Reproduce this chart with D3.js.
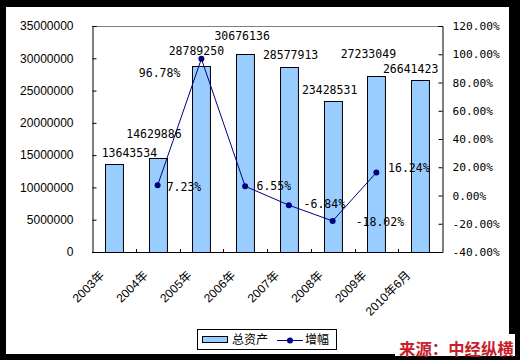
<!DOCTYPE html>
<html><head><meta charset="utf-8">
<script src="https://cdn.jsdelivr.net/npm/d3@7"></script>
<style>html,body{margin:0;padding:0;background:#000;}svg{display:block;}</style>
</head><body>
<script>
const categories = ["2003年","2004年","2005年","2006年","2007年","2008年","2009年","2010年6月"];
const totalAssets = [13643534, 14629886, 28789250, 30676136, 28577913, 23428531, 27233049, 26641423];
const growth = [null, 7.23, 96.78, 6.55, -6.84, -18.02, 16.24, null];
const leftTicks = [0, 5000000, 10000000, 15000000, 20000000, 25000000, 30000000, 35000000];
const rightTicks = [-40, -20, 0, 20, 40, 60, 80, 100, 120];
const seriesNames = ["总资产", "增幅"];
const sourceText = "来源：中经纵横";

// manual label nudges (layout only)
const valueLabelShift = [[15.5,-10.7],[-3.7,-23.5],[-5,-15],[-3,-18],[1.7,-12.5],[-3,-10.7],[-8,-21.7],[-9.5,-11]];
const pctLabelShift = [null,[9,1.4,"start"],[-21,14,"end"],[11.4,0,"start"],[14.7,-1,"start"],[23,0.7,"start"],[11.7,-4.3,"start"],null];

const W = 520, H = 360;
const plot = {l: 92, r: 442, t: 26, b: 252};
const svg = d3.select("body").append("svg").attr("width", W).attr("height", H);
svg.append("rect").attr("width", W).attr("height", H).attr("fill", "#000");
svg.append("rect").attr("x", 6).attr("y", 7).attr("width", 503).attr("height", 347).attr("fill", "#fff");

const monoFont = "'DejaVu Sans Mono', monospace";
const x = d3.scaleBand().domain(categories).range([plot.l, plot.r]).paddingInner(0.59).paddingOuter(0.295);
const yL = d3.scaleLinear().domain([0, 35000000]).range([plot.b, plot.t]);
const yR = d3.scaleLinear().domain([-40, 120]).range([plot.b, plot.t]);

// top border gray
svg.append("line").attr("x1", plot.l).attr("x2", plot.r).attr("y1", plot.t + 0.5).attr("y2", plot.t + 0.5).attr("stroke", "#808080");

// bars
svg.append("g").selectAll("rect").data(totalAssets).join("rect")
  .attr("x", (d, i) => Math.round(x(categories[i])) + 0.5)
  .attr("y", d => Math.round(yL(d)) + 0.5)
  .attr("width", x.bandwidth())
  .attr("height", d => plot.b - Math.round(yL(d)))
  .attr("fill", "#99ccff").attr("stroke", "#000").attr("stroke-width", 1);

// left axis
const gL = svg.append("g").attr("transform", `translate(${plot.l + 0.5},0)`)
  .call(d3.axisLeft(yL).tickValues(leftTicks).tickFormat(d3.format("d")).tickSize(-4).tickPadding(19));
gL.selectAll("text").attr("font-family", "'Liberation Sans', Arial, sans-serif").attr("font-size", 12).attr("fill", "#000");
gL.selectAll("line,path").attr("stroke", "#000");

// right axis
const gR = svg.append("g").attr("transform", `translate(${plot.r + 0.5},0)`)
  .call(d3.axisRight(yR).tickValues(rightTicks).tickFormat(d => d.toFixed(2) + "%").tickSize(-4).tickPadding(10));
gR.selectAll("text").attr("font-family", monoFont).attr("font-size", 11.2).attr("fill", "#000");
gR.selectAll("line,path").attr("stroke", "#000");

// bottom axis
svg.append("line").attr("x1", plot.l).attr("x2", plot.r + 1).attr("y1", plot.b + 0.5).attr("y2", plot.b + 0.5).attr("stroke", "#000");
const step = x.step(), gap = step - x.bandwidth();
svg.append("g").selectAll("line").data(categories.slice(1)).join("line")
  .attr("x1", d => Math.round(x(d) - gap / 2) + 0.5).attr("x2", d => Math.round(x(d) - gap / 2) + 0.5)
  .attr("y1", plot.b - 3).attr("y2", plot.b).attr("stroke", "#000");

// x labels
svg.append("g").selectAll("text").data(categories).join("text")
  .attr("transform", d => `translate(${x(d) + x.bandwidth() / 2 - 9},276) rotate(-45)`)
  .attr("text-anchor", "end")
  .attr("font-family", "'Liberation Sans', 'Noto Sans CJK SC', sans-serif").attr("font-size", 12).attr("fill", "#000")
  .text(d => d);

// line
const cx = i => x(categories[i]) + x.bandwidth() / 2;
const line = d3.line().defined(d => d != null).x((d, i) => cx(i)).y(d => yR(d));
svg.append("path").datum(growth).attr("d", line).attr("fill", "none").attr("stroke", "#000080").attr("stroke-width", 1);
svg.append("g").selectAll("circle").data(growth.map((d, i) => [d, i]).filter(p => p[0] != null)).join("circle")
  .attr("cx", p => cx(p[1])).attr("cy", p => yR(p[0])).attr("r", 3).attr("fill", "#000080");

// value labels
svg.append("g").selectAll("text").data(totalAssets).join("text")
  .attr("x", (d, i) => cx(i) + valueLabelShift[i][0])
  .attr("y", (d, i) => yL(d) + valueLabelShift[i][1])
  .attr("dy", "0.35em").attr("text-anchor", "middle")
  .attr("font-family", monoFont).attr("font-size", 11.5).attr("fill", "#000")
  .text(d => String(d));

// pct labels
svg.append("g").selectAll("text").data(growth.map((d, i) => [d, i]).filter(p => p[0] != null)).join("text")
  .attr("x", p => cx(p[1]) + pctLabelShift[p[1]][0])
  .attr("y", p => yR(p[0]) + pctLabelShift[p[1]][1])
  .attr("dy", "0.35em").attr("text-anchor", p => pctLabelShift[p[1]][2])
  .attr("font-family", monoFont).attr("font-size", 11.5).attr("fill", "#000")
  .text(p => p[0].toFixed(2) + "%");

// legend
const lg = svg.append("g");
lg.append("rect").attr("x", 197.5).attr("y", 329.5).attr("width", 139).attr("height", 20).attr("fill", "#fff").attr("stroke", "#000");
lg.append("rect").attr("x", 202.5).attr("y", 336.5).attr("width", 25).attr("height", 6).attr("fill", "#99ccff").attr("stroke", "#000");
lg.append("text").attr("x", 232).attr("y", 340).attr("dy", "0.36em").attr("font-family", "'Noto Sans CJK SC', sans-serif").attr("font-size", 12).attr("fill", "#000").text(seriesNames[0]);
lg.append("line").attr("x1", 277).attr("x2", 303).attr("y1", 340.5).attr("y2", 340.5).attr("stroke", "#000080");
lg.append("circle").attr("cx", 290).attr("cy", 340.5).attr("r", 3).attr("fill", "#000080");
lg.append("text").attr("x", 305).attr("y", 340).attr("dy", "0.36em").attr("font-family", "'Noto Sans CJK SC', sans-serif").attr("font-size", 12).attr("fill", "#000").text(seriesNames[1]);

// source watermark
svg.append("rect").attr("x", 395).attr("y", 334).attr("width", 120).attr("height", 22).attr("fill", "#fff");
svg.append("text").attr("x", 399).attr("y", 349).attr("dy", "0.36em")
  .attr("font-family", "'Noto Sans CJK SC', sans-serif").attr("font-weight", "bold").attr("font-size", 16.4)
  .attr("fill", "#c8202a").text(sourceText);
</script>
</body></html>
